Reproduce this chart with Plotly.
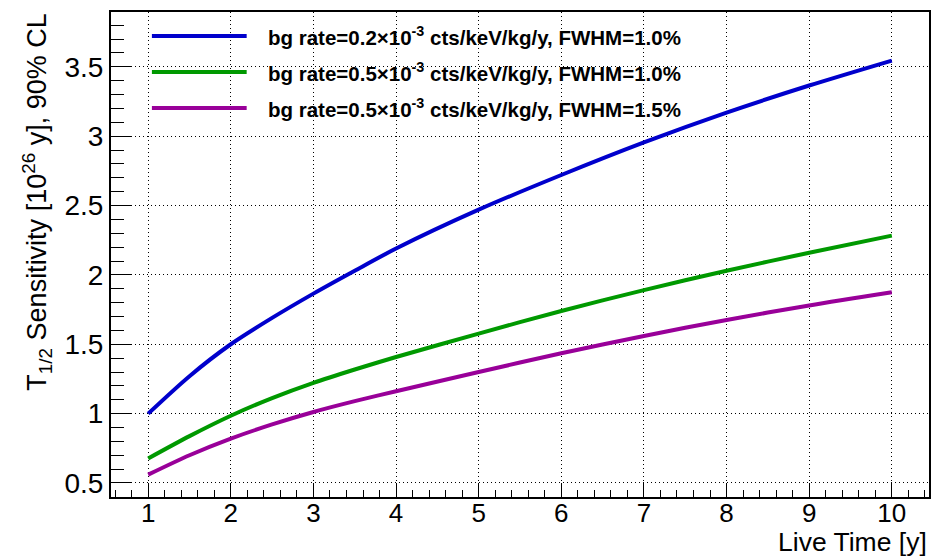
import plotly.graph_objects as go

# ---- data ----
live_time = [1, 1.5, 2, 2.5, 3, 3.5, 4, 5, 6, 7, 8, 9, 10]
sens_bg02_fwhm10 = [1.00, 1.27, 1.50, 1.69, 1.865, 2.03, 2.19, 2.47, 2.72, 2.955, 3.17, 3.365, 3.545]
sens_bg05_fwhm10 = [0.677, 0.838, 0.985, 1.112, 1.222, 1.318, 1.408, 1.577, 1.74, 1.89, 2.03, 2.16, 2.283]
sens_bg05_fwhm15 = [0.56, 0.70, 0.82, 0.922, 1.012, 1.09, 1.161, 1.30, 1.435, 1.56, 1.675, 1.78, 1.875]

series_names = [
    "bg rate=0.2\u00d710<sup>-3</sup> cts/keV/kg/y, FWHM=1.0%",
    "bg rate=0.5\u00d710<sup>-3</sup> cts/keV/kg/y, FWHM=1.0%",
    "bg rate=0.5\u00d710<sup>-3</sup> cts/keV/kg/y, FWHM=1.5%",
]
series_values = [sens_bg02_fwhm10, sens_bg05_fwhm10, sens_bg05_fwhm15]
series_colors = ["#0000CC", "#009900", "#990099"]

x_tick_vals = [1, 2, 3, 4, 5, 6, 7, 8, 9, 10]
y_tick_vals = [0.5, 1, 1.5, 2, 2.5, 3, 3.5]
y_tick_text = ["0.5", "1", "1.5", "2", "2.5", "3", "3.5"]

# ---- layout geometry ----
W, H = 933, 556
ML, MR, MT, MB = 111, 2, 12, 59
PW, PH = W - ML - MR, H - MT - MB

def px(xp):
    return (xp - ML) / PW

def py(yp):
    return (H - MB - yp) / PH

FONT = "Liberation Sans, Arial, Helvetica, sans-serif"

fig = go.Figure()
for name, vals, col in zip(series_names, series_values, series_colors):
    fig.add_trace(go.Scatter(
        x=live_time, y=vals, mode="lines", name=name,
        line=dict(color=col, width=4, shape="spline", smoothing=0.8),
        showlegend=False,
    ))

# manual ROOT-style legend
shapes = []
annotations = []
leg_y = [36, 72, 108]
for name, col, yy in zip(series_names, series_colors, leg_y):
    shapes.append(dict(type="line", xref="paper", yref="paper",
                       x0=px(152), x1=px(247), y0=py(yy), y1=py(yy),
                       line=dict(color=col, width=4)))
    annotations.append(dict(text="<b>" + name + "</b>", xref="paper", yref="paper",
                            x=px(266), y=py(yy), xanchor="left", yanchor="middle",
                            showarrow=False, font=dict(family=FONT, size=20.5, color="black")))

# axis titles
annotations.append(dict(text="Live Time [y]", xref="paper", yref="paper",
                        x=px(931), y=py(542), xanchor="right", yanchor="middle",
                        showarrow=False, font=dict(family=FONT, size=26.5, color="black")))
annotations.append(dict(text="T<sub>1/2</sub> Sensitivity [10<sup>26</sup> y], 90% CL",
                        xref="paper", yref="paper", x=px(36), y=1.0,
                        xanchor="center", yanchor="top", textangle=-90,
                        showarrow=False, font=dict(family=FONT, size=27, color="black")))

fig.update_layout(
    width=W, height=H,
    margin=dict(l=ML, r=MR, t=MT, b=MB),
    paper_bgcolor="white", plot_bgcolor="white",
    font=dict(family=FONT, color="black"),
    shapes=shapes, annotations=annotations,
    showlegend=False,
)
fig.update_xaxes(
    range=[0.55, 10.45], tickvals=x_tick_vals,
    showline=True, linecolor="black", linewidth=2, mirror=True,
    ticks="inside", ticklen=14, tickwidth=1, tickcolor="black",
    minor=dict(dtick=0.2, tick0=0, ticks="inside", ticklen=7, tickwidth=1, tickcolor="black", showgrid=False),
    showgrid=True, gridcolor="black", gridwidth=1, griddash="1px,3px",
    tickfont=dict(family=FONT, size=26, color="black"),
    ticklabelstandoff=-8,
    zeroline=False,
)
fig.update_yaxes(
    range=[0.399, 3.895], tickvals=y_tick_vals, ticktext=y_tick_text,
    showline=True, linecolor="black", linewidth=2, mirror=True,
    ticks="inside", ticklen=20, tickwidth=1, tickcolor="black",
    minor=dict(dtick=0.1, tick0=0, ticks="inside", ticklen=13, tickwidth=1, tickcolor="black", showgrid=False),
    showgrid=True, gridcolor="black", gridwidth=1, griddash="1px,3px",
    tickfont=dict(family=FONT, size=28, color="black"),
    ticklabelstandoff=0,
    zeroline=False,
)

fig.write_html("out.html")
